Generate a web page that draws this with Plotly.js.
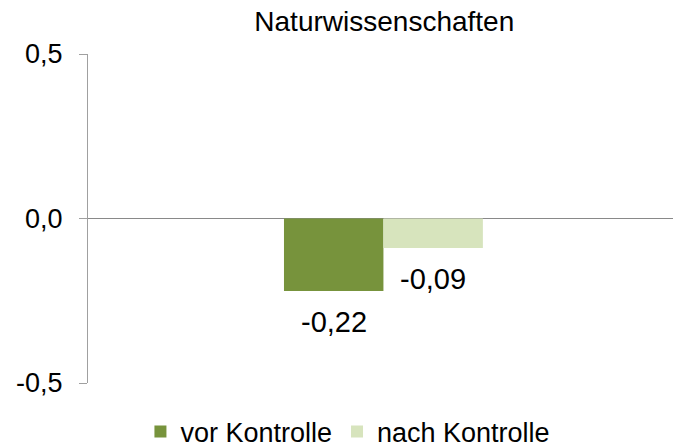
<!DOCTYPE html>
<html>
<head>
<meta charset="utf-8">
<script src="https://cdn.plot.ly/plotly-3.0.1.min.js"></script>
<style>html,body{margin:0;padding:0;background:#fff;}#chart{width:673px;height:448px;}</style>
</head>
<body>
<div id="chart"></div>
<script>
const category = ["Naturwissenschaften"];
const seriesNames = ["vor Kontrolle", "nach Kontrolle"];
const vorKontrolle = [-0.22];
const nachKontrolle = [-0.09];
const seriesColors = ["#77933C", "#D7E4BD"];
const tickValues = [-0.5, 0, 0.5];
const tickLabels = ["-0,5", "0,0", "0,5"];

const fmt = v => v.toFixed(2).replace('.', ',');
const bargap = 0.66;
const barW = (1 - bargap) / 2;

const traces = [vorKontrolle, nachKontrolle].map((vals, i) => ({
  type: 'bar',
  name: seriesNames[i],
  x: [0],
  y: vals,
  marker: {color: seriesColors[i]},
  hoverinfo: 'skip'
}));

const annotations = [];
[vorKontrolle, nachKontrolle].forEach((vals, i) => {
  vals.forEach((v, j) => {
    annotations.push({
      xref: 'x', yref: 'y',
      x: j + (i - 0.5) * barW,
      y: v,
      text: fmt(v),
      showarrow: false,
      yanchor: 'top',
      yshift: -13,
      font: {size: 29, color: '#000'}
    });
  });
});

const layout = {
  width: 673, height: 448,
  margin: {l: 88, r: 0, t: 54, b: 65},
  paper_bgcolor: '#fff', plot_bgcolor: '#fff',
  font: {family: '"Liberation Sans", Arial, sans-serif', color: '#000', size: 26},
  title: {text: category[0], font: {size: 28}, xref: 'container', x: 0.571, yref: 'container', y: 0.952, yanchor: 'middle'},
  barmode: 'group', bargap: bargap, bargroupgap: 0,
  xaxis: {range: [-0.505, 0.495], showticklabels: false, showgrid: false, zeroline: false, showline: false, ticks: ''},
  yaxis: {range: [-0.5, 0.5], tickvals: tickValues, ticktext: tickLabels, showgrid: false,
    zeroline: true, zerolinecolor: '#898989', zerolinewidth: 1.5,
    showline: true, linecolor: '#A0A0A0', linewidth: 1, ticks: 'outside', ticklen: 8, tickcolor: '#A0A0A0',
    ticklabelstandoff: 11, tickfont: {size: 27}},
  showlegend: true,
  legend: {orientation: 'h', xref: 'container', x: 0.517, xanchor: 'center', yref: 'container', y: 0.036, yanchor: 'middle',
    font: {size: 27}, itemclick: false, traceorder: 'normal', tracegroupgap: 0},
  annotations: annotations
};

Plotly.newPlot('chart', traces, layout, {staticPlot: true});
</script>
</body>
</html>
